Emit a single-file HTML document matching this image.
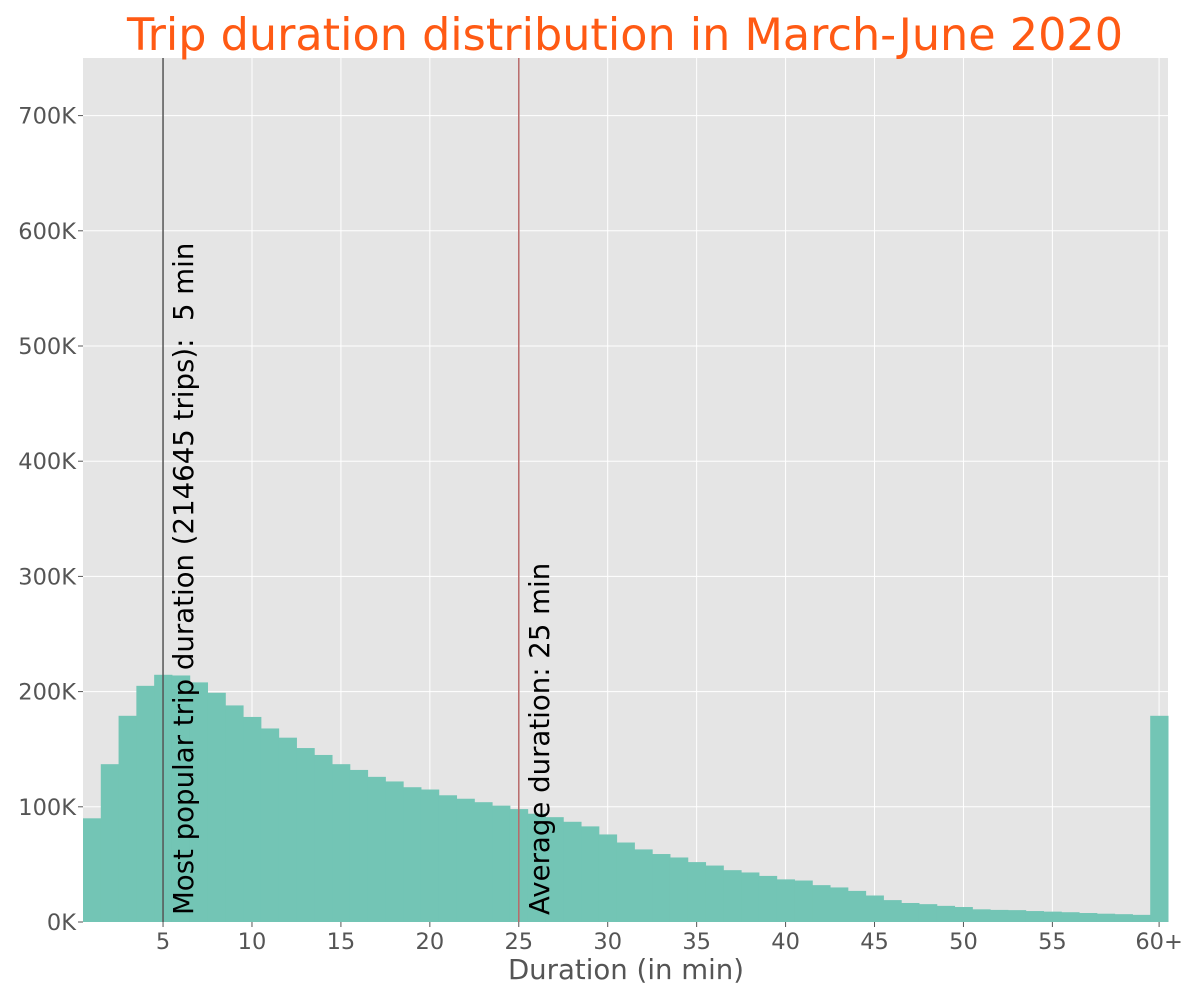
<!DOCTYPE html>
<html><head><meta charset="utf-8"><style>
body{margin:0;background:#fff}
svg{display:block;font-family:"DejaVu Sans","Liberation Sans",sans-serif}
text{white-space:pre}
</style></head><body>
<svg id="c" width="1200" height="1000"></svg>
<script>
const binLabels=[1,2,3,4,5,6,7,8,9,10,11,12,13,14,15,16,17,18,19,20,21,22,23,24,25,26,27,28,29,30,31,32,33,34,35,36,37,38,39,40,41,42,43,44,45,46,47,48,49,50,51,52,53,54,55,56,57,58,59,60,61];
const tripCounts=[90,137,179,205,214.6,214,208,199,188,178,168,160,151,145,137,132,126,122,117,115,110,107,104,101,98,94,91,87,83,76,69,63,59,56,52,49,45,43,40,37,36,32,30,27,23,19,16.5,15.5,14,13,11,10.5,10.3,9.5,9,8.5,7.8,7.2,6.8,6.2,179];
const xTicks=[5,10,15,20,25,30,35,40,45,50,55,61];
const xTickLabels=["5","10","15","20","25","30","35","40","45","50","55","60+"];
const yTicks=[0,100,200,300,400,500,600,700];
const modeMin=5, modeTrips=214645, avgMin=25;
const L=83,R=1168,T=58,B=922;
const xs=v=>L+(v-0.5)/61*(R-L);
const ys=v=>B-(v/750)*(B-T);
const NS="http://www.w3.org/2000/svg",svg=document.getElementById('c');
function mk(t,a,p){const e=document.createElementNS(NS,t);for(const k in a)e.setAttribute(k,a[k]);(p||svg).appendChild(e);return e;}
let e=mk('rect',{x:L,y:T,width:R-L,height:B-T,fill:'#e5e5e5'});


yTicks.forEach(t=>{let g=mk('line',{x1:L,x2:R,y1:ys(t),y2:ys(t),stroke:'#fff','stroke-width':1});


let tk=mk('line',{x1:L-5,x2:L,y1:ys(t),y2:ys(t),stroke:'#555'});


let tx=mk('text',{x:L-7,y:ys(t)+8,'text-anchor':'end','font-size':22.5,fill:'#555'});tx.textContent=t+'K';

});
xTicks.forEach((t,i)=>{let g=mk('line',{x1:xs(t),x2:xs(t),y1:T,y2:B,stroke:'#fff','stroke-width':1});


let tk=mk('line',{x1:xs(t),x2:xs(t),y1:B,y2:B+5,stroke:'#555'});


let tx=mk('text',{x:xs(t),y:B+27,'text-anchor':'middle','font-size':22.5,fill:'#555'});tx.textContent=xTickLabels[i];

});
binLabels.forEach((b,i)=>{const x0=xs(b-0.5),x1=xs(b+0.5);
let r=mk('rect',{x:x0,y:ys(tripCounts[i]),width:x1-x0+0.5,height:B-ys(tripCounts[i]),fill:'#73c5b5'});

});
let m=mk('line',{x1:xs(modeMin),x2:xs(modeMin),y1:T,y2:B,stroke:'#555','stroke-width':1.5});


let a=mk('line',{x1:xs(avgMin),x2:xs(avgMin),y1:T,y2:B,stroke:'#b86a6a','stroke-width':1.5});


let mt=mk('text',{x:0,y:0,'font-size':27.6,fill:'#000',transform:`translate(${xs(modeMin)+30},915) rotate(-90)`});
mt.textContent=`Most popular trip duration (${modeTrips} trips):  ${modeMin} min`;


let at=mk('text',{x:0,y:0,'font-size':27.6,fill:'#000',transform:`translate(${xs(avgMin)+30},915) rotate(-90)`});
at.textContent=`Average duration: ${avgMin} min`;


let ti=mk('text',{x:625,y:50,'text-anchor':'middle','font-size':44.5,fill:'#ff5a14'});ti.textContent='Trip duration distribution in March-June 2020';


let xl=mk('text',{x:626,y:979,'text-anchor':'middle','font-size':27.6,fill:'#555'});xl.textContent='Duration (in min)';


</script>
</body></html>
